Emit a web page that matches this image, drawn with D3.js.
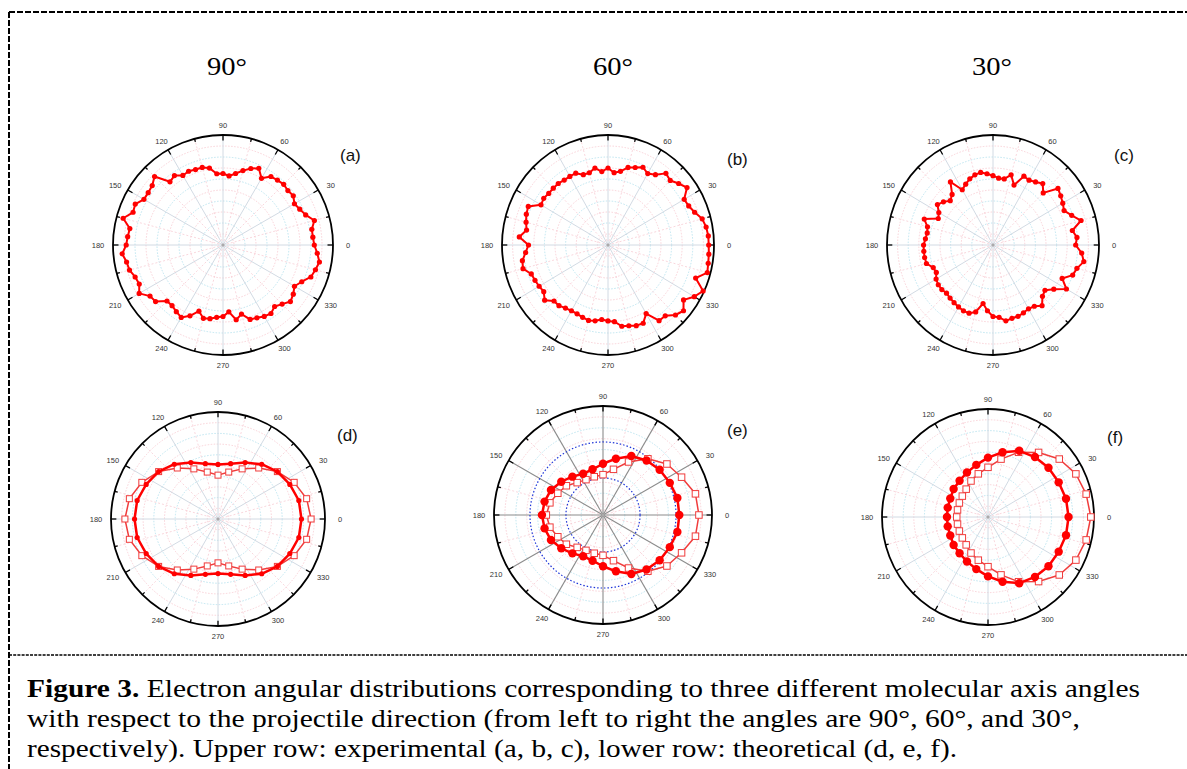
<!DOCTYPE html>
<html>
<head>
<meta charset="utf-8">
<script src="https://cdn.jsdelivr.net/npm/d3@7"></script>
<style>
  body { margin: 0; background: #fff; }
  svg { display: block; }
  .serif { font-family: 'Liberation Serif', 'Times New Roman', serif; }
  .sans { font-family: 'Liberation Sans', Arial, sans-serif; }
</style>
</head>
<body>
<script>
'use strict';

// column titles (molecular axis angle) and panel letters
const columnTitles = ["90°", "60°", "30°"];
const panelLetters = ["(a)", "(b)", "(c)", "(d)", "(e)", "(f)"];

// angular tick labels around every polar plot
const tickAngles = [0, 30, 60, 90, 120, 150, 180, 210, 240, 270, 300, 330];
const gridLevels = [0.1, 0.2, 0.3, 0.4, 0.5, 0.6, 0.7, 0.8, 0.9];

// experimental angles (deg)
const expAngles = [0, 5, 10, 15, 20, 25, 30, 35, 40, 45, 50, 55, 60, 65, 70, 75, 80, 85,
  90, 95, 100, 105, 110, 115, 120, 125, 130, 135, 140, 145, 150, 155, 160, 165, 170, 175,
  180, 185, 190, 195, 200, 205, 210, 215, 220, 225, 230, 235, 240, 245, 250, 255, 260, 265,
  270, 275, 280, 285, 290, 295, 300, 305, 310, 315, 320, 325, 330, 335, 340, 345, 350, 355];

// (a) experimental, 90 deg
const expA = [0.83, 0.82, 0.82, 0.86, 0.80, 0.77, 0.75, 0.78, 0.77, 0.78, 0.77, 0.76, 0.70, 0.77, 0.74, 0.70, 0.66, 0.63,
  0.65, 0.65, 0.71, 0.73, 0.73, 0.74, 0.73, 0.77, 0.75, 0.88, 0.84, 0.83, 0.83, 0.88, 0.87, 0.94, 0.86, 0.87,
  0.88, 0.92, 0.89, 0.88, 0.85, 0.84, 0.88, 0.81, 0.80, 0.72, 0.72, 0.74, 0.76, 0.71, 0.64, 0.69, 0.68, 0.66,
  0.65, 0.61, 0.69, 0.65, 0.72, 0.73, 0.75, 0.76, 0.73, 0.76, 0.80, 0.78, 0.75, 0.79, 0.85, 0.87, 0.89, 0.86];

// (b) experimental, 60 deg
const expB = [0.95, 0.95, 0.94, 0.92, 0.87, 0.84, 0.83, 0.91, 0.87, 0.83, 0.85, 0.78, 0.75, 0.78, 0.75, 0.73, 0.68, 0.66,
  0.70, 0.67, 0.71, 0.68, 0.68, 0.72, 0.72, 0.72, 0.73, 0.73, 0.73, 0.74, 0.73, 0.83, 0.82, 0.80, 0.78, 0.84,
  0.75, 0.78, 0.82, 0.83, 0.77, 0.76, 0.75, 0.74, 0.78, 0.72, 0.72, 0.70, 0.69, 0.69, 0.70, 0.71, 0.70, 0.68,
  0.69, 0.70, 0.75, 0.76, 0.78, 0.785, 0.72, 0.84, 0.84, 0.90, 0.93, 0.87, 0.94, 0.99, 0.88, 0.97, 0.96, 0.955];

// (c) experimental, 30 deg
const expC = [0.78, 0.795, 0.76, 0.86, 0.79, 0.74, 0.76, 0.78, 0.80, 0.67, 0.73, 0.70, 0.68, 0.69, 0.58, 0.66, 0.61, 0.61,
  0.63, 0.65, 0.67, 0.66, 0.64, 0.61, 0.58, 0.70, 0.60, 0.57, 0.61, 0.64, 0.59, 0.57, 0.69, 0.64, 0.63, 0.64,
  0.655, 0.655, 0.655, 0.65, 0.60, 0.59, 0.62, 0.63, 0.63, 0.62, 0.63, 0.64, 0.65, 0.66, 0.66, 0.63, 0.54, 0.60,
  0.65, 0.66, 0.70, 0.69, 0.69, 0.68, 0.67, 0.68, 0.72, 0.66, 0.64, 0.70, 0.80, 0.72, 0.80, 0.82, 0.87, 0.84];

// theoretical angles (deg)
const theoryAngles = [0, 12.9, 25.7, 38.6, 51.4, 64.3, 77.1, 90, 102.9, 115.7, 128.6, 141.4, 154.3, 167.1,
  180, 192.9, 205.7, 218.6, 231.4, 244.3, 257.1, 270, 282.9, 295.7, 308.6, 321.4, 334.3, 347.1];

// (d) theory, 90 deg
const theoryDfull = [0.78, 0.775, 0.745, 0.71, 0.655, 0.585, 0.53, 0.51, 0.53, 0.585, 0.655, 0.71, 0.745, 0.775,
  0.78, 0.775, 0.745, 0.71, 0.655, 0.585, 0.53, 0.51, 0.53, 0.585, 0.655, 0.71, 0.745, 0.775];
const theoryDopen = [0.87, 0.85, 0.79, 0.71, 0.61, 0.52, 0.45, 0.41, 0.45, 0.52, 0.61, 0.71, 0.79, 0.85,
  0.87, 0.85, 0.79, 0.71, 0.61, 0.52, 0.45, 0.41, 0.45, 0.52, 0.61, 0.71, 0.79, 0.85];

// (e) theory, 60 deg
const theoryEfull = [0.70, 0.70, 0.68, 0.665, 0.64, 0.60, 0.53, 0.47, 0.43, 0.42, 0.45, 0.49, 0.53, 0.55,
  0.56, 0.55, 0.53, 0.49, 0.45, 0.42, 0.43, 0.47, 0.53, 0.60, 0.64, 0.665, 0.68, 0.70];
const theoryEopen = [0.88, 0.87, 0.80, 0.75, 0.66, 0.54, 0.43, 0.37, 0.36, 0.36, 0.38, 0.43, 0.46, 0.50,
  0.52, 0.50, 0.46, 0.43, 0.38, 0.36, 0.36, 0.37, 0.43, 0.54, 0.66, 0.75, 0.80, 0.87];

// (f) theory, 30 deg
const theoryFfull = [0.76, 0.755, 0.74, 0.73, 0.71, 0.68, 0.615, 0.55, 0.495, 0.457, 0.43, 0.415, 0.395, 0.39,
  0.387, 0.39, 0.395, 0.415, 0.43, 0.457, 0.495, 0.55, 0.615, 0.68, 0.71, 0.73, 0.74, 0.755];
const theoryFopen = [0.97, 0.95, 0.92, 0.86, 0.765, 0.665, 0.55, 0.46, 0.41, 0.37, 0.33, 0.31, 0.30, 0.295,
  0.295, 0.295, 0.30, 0.31, 0.33, 0.37, 0.41, 0.46, 0.55, 0.665, 0.765, 0.86, 0.92, 0.95];

// caption lines
const captionLines = [
  ["Figure 3.", " Electron angular distributions corresponding to three different molecular axis angles"],
  ["", "with respect to the projectile direction (from left to right the angles are 90°, 60°, and 30°,"],
  ["", "respectively). Upper row: experimental (a, b, c), lower row: theoretical (d, e, f)."]
];

(function() {

  let svg = "";

  window.onload = function() {
    svg = d3.select('body').append('svg')
      .attr('width', 1187)
      .attr('height', 769);

    drawFrame();

    // column titles
    const titleX = [227, 613, 992];
    svg.selectAll('.coltitle')
      .data(columnTitles)
      .enter()
      .append('text')
        .attr('class', 'serif')
        .attr('x', (d, i) => titleX[i] - 20)
        .attr('y', 75)
        .attr('textLength', 40)
        .attr('lengthAdjust', 'spacingAndGlyphs')
        .style('font-size', '25px')
        .text(d => d);

    // panel geometry: centre + radii (upper row is slightly squashed in some panels)
    const panels = [
      { cx: 223, cy: 245, rx: 110, ry: 110, lx: 340, ly: 161 },
      { cx: 608, cy: 245, rx: 106, ry: 110, lx: 727, ly: 165 },
      { cx: 993, cy: 245, rx: 106, ry: 110, lx: 1114, ly: 161 },
      { cx: 218, cy: 519, rx: 107, ry: 107, lx: 337, ly: 441 },
      { cx: 603, cy: 515, rx: 109, ry: 109, lx: 727, ly: 436 },
      { cx: 988, cy: 517, rx: 106, ry: 108, lx: 1107, ly: 443 }
    ];

    const expSeries = [expA, expB, expC];
    const fullSeries = [theoryDfull, theoryEfull, theoryFfull];
    const openSeries = [theoryDopen, theoryEopen, theoryFopen];

    panels.forEach((p, i) => {
      const g = svg.append('g');
      const sc = makeScales(p);
      drawGrid(g, p, sc, i === 4);
      if (i < 3) {
        plotSeries(g, sc, expAngles, expSeries[i], { stroke: '#ff0000', width: 2, dot: 2.6 });
      } else {
        const k = i - 3;
        plotSeries(g, sc, theoryAngles, openSeries[k], { stroke: '#f03c3c', width: 1.5, square: k === 0 ? 6 : 6.5 });
        plotSeries(g, sc, theoryAngles, fullSeries[k], { stroke: '#ff0000', width: 2.5, dot: k === 0 ? 2.6 : 4.2 });
      }
      g.append('text')
        .attr('class', 'sans')
        .attr('x', p.lx)
        .attr('y', p.ly)
        .style('font-size', '17px')
        .attr('fill', '#111')
        .text(panelLetters[i]);
    });

    drawCaption();
  };

  // x/y linear scales mapping unit cartesian coords onto the panel
  function makeScales(p) {
    const x = d3.scaleLinear().domain([-1, 1]).range([p.cx - p.rx, p.cx + p.rx]);
    const y = d3.scaleLinear().domain([-1, 1]).range([p.cy + p.ry, p.cy - p.ry]);
    return {
      x: x,
      y: y,
      px: (deg, r) => x(r * Math.cos(deg * Math.PI / 180)),
      py: (deg, r) => y(r * Math.sin(deg * Math.PI / 180))
    };
  }

  // circles, spokes, outer ring, ticks and labels
  function drawGrid(g, p, sc, darkGrid) {
    // concentric dotted circles, alternating cyan / pink
    g.selectAll('.ring')
      .data(gridLevels)
      .enter()
      .append('ellipse')
        .attr('cx', sc.x(0))
        .attr('cy', sc.y(0))
        .attr('rx', d => sc.x(d) - sc.x(0))
        .attr('ry', d => sc.y(0) - sc.y(d))
        .attr('fill', 'none')
        .attr('stroke', (d, i) => i % 2 === 0 ? '#f8cdd4' : '#b7e2ee')
        .attr('stroke-width', 0.9)
        .attr('stroke-dasharray', '1.5,1.5');

    // pink dotted spokes between the 30 deg ones
    const halfSpokes = tickAngles.map(a => a + 15);
    g.selectAll('.hspoke')
      .data(halfSpokes)
      .enter()
      .append('line')
        .attr('x1', sc.x(0)).attr('y1', sc.y(0))
        .attr('x2', d => sc.px(d, 1)).attr('y2', d => sc.py(d, 1))
        .attr('stroke', '#f8cdd4')
        .attr('stroke-width', 0.8)
        .attr('stroke-dasharray', '2,2');

    // main spokes
    g.selectAll('.spoke')
      .data(tickAngles)
      .enter()
      .append('line')
        .attr('x1', sc.x(0)).attr('y1', sc.y(0))
        .attr('x2', d => sc.px(d, 1)).attr('y2', d => sc.py(d, 1))
        .attr('stroke', darkGrid ? '#8c8c8c' : '#cdd6e0')
        .attr('stroke-width', darkGrid ? 1.1 : 0.9);

    if (darkGrid) {
      g.selectAll('.bluering')
        .data([0.34, 0.67])
        .enter()
        .append('ellipse')
          .attr('cx', sc.x(0))
          .attr('cy', sc.y(0))
          .attr('rx', d => sc.x(d) - sc.x(0))
          .attr('ry', d => sc.y(0) - sc.y(d))
          .attr('fill', 'none')
          .attr('stroke', '#1f35d8')
          .attr('stroke-width', 1.2)
          .attr('stroke-dasharray', '1.5,2');
    }

    g.append('circle')
      .attr('cx', sc.x(0)).attr('cy', sc.y(0))
      .attr('r', 1.5)
      .attr('fill', '#aaa');

    // outer ring
    g.append('ellipse')
      .attr('cx', sc.x(0))
      .attr('cy', sc.y(0))
      .attr('rx', sc.x(1) - sc.x(0))
      .attr('ry', sc.y(0) - sc.y(1))
      .attr('fill', 'none')
      .attr('stroke', '#000')
      .attr('stroke-width', 1.8);

    // ticks every 15 deg, longer at 30 deg
    const tickList = tickAngles.concat(halfSpokes);
    g.selectAll('.tick')
      .data(tickList)
      .enter()
      .append('line')
        .attr('x1', d => sc.px(d, 1)).attr('y1', d => sc.py(d, 1))
        .attr('x2', d => sc.px(d, d % 30 === 0 ? 0.95 : 0.97))
        .attr('y2', d => sc.py(d, d % 30 === 0 ? 0.95 : 0.97))
        .attr('stroke', '#000')
        .attr('stroke-width', 1.3);

    // angle labels
    g.selectAll('.alabel')
      .data(tickAngles)
      .enter()
      .append('text')
        .attr('class', 'sans')
        .attr('x', d => {
          const c = Math.cos(d * Math.PI / 180);
          return p.cx + (p.rx + 11 + 4 * Math.abs(c)) * c;
        })
        .attr('y', d => p.cy - (p.ry + 10) * Math.sin(d * Math.PI / 180))
        .attr('text-anchor', 'middle')
        .attr('dominant-baseline', 'central')
        .style('font-size', '7.5px')
        .attr('fill', '#333')
        .text(d => d);
  }

  // closed polar curve with markers
  function plotSeries(g, sc, angles, values, style) {
    const pts = angles.map((a, i) => [sc.px(a, values[i]), sc.py(a, values[i])]);
    const line = d3.line().curve(d3.curveLinearClosed);

    g.append('path')
      .attr('d', line(pts))
      .attr('fill', 'none')
      .attr('stroke', style.stroke)
      .attr('stroke-width', style.width)
      .attr('stroke-linejoin', 'round');

    if (style.dot) {
      g.selectAll(null)
        .data(pts)
        .enter()
        .append('circle')
          .attr('cx', d => d[0])
          .attr('cy', d => d[1])
          .attr('r', style.dot)
          .attr('fill', '#ff0000');
    }
    if (style.square) {
      const s = style.square;
      g.selectAll(null)
        .data(pts)
        .enter()
        .append('rect')
          .attr('x', d => d[0] - s / 2)
          .attr('y', d => d[1] - s / 2)
          .attr('width', s)
          .attr('height', s)
          .attr('fill', '#fff')
          .attr('stroke', style.stroke)
          .attr('stroke-width', 1);
    }
  }

  // dashed frame and the separator above the caption
  function drawFrame() {
    svg.append('line')
      .attr('x1', 9).attr('y1', 12).attr('x2', 1187).attr('y2', 12)
      .attr('stroke', '#000').attr('stroke-width', 2).attr('stroke-dasharray', '6,2');
    svg.append('line')
      .attr('x1', 9).attr('y1', 12).attr('x2', 9).attr('y2', 769)
      .attr('stroke', '#000').attr('stroke-width', 2).attr('stroke-dasharray', '6,2');
    svg.append('line')
      .attr('x1', 9).attr('y1', 655).attr('x2', 1187).attr('y2', 655)
      .attr('stroke', '#000').attr('stroke-width', 1.3).attr('stroke-dasharray', '3,1.2');
  }

  function drawCaption() {
    const baseY = [697, 727, 757];
    const lineEnd = [1140, 1080, 957];
    captionLines.forEach((ln, i) => {
      const t = svg.append('text')
        .attr('class', 'serif')
        .attr('x', 27)
        .attr('y', baseY[i])
        .attr('textLength', lineEnd[i] - 27)
        .attr('lengthAdjust', 'spacingAndGlyphs')
        .style('font-size', '25px')
        .attr('fill', '#000');
      if (ln[0]) {
        t.append('tspan').style('font-weight', 'bold').text(ln[0]);
      }
      t.append('tspan').text(ln[1]);
    });
  }

})();
</script>
</body>
</html>
